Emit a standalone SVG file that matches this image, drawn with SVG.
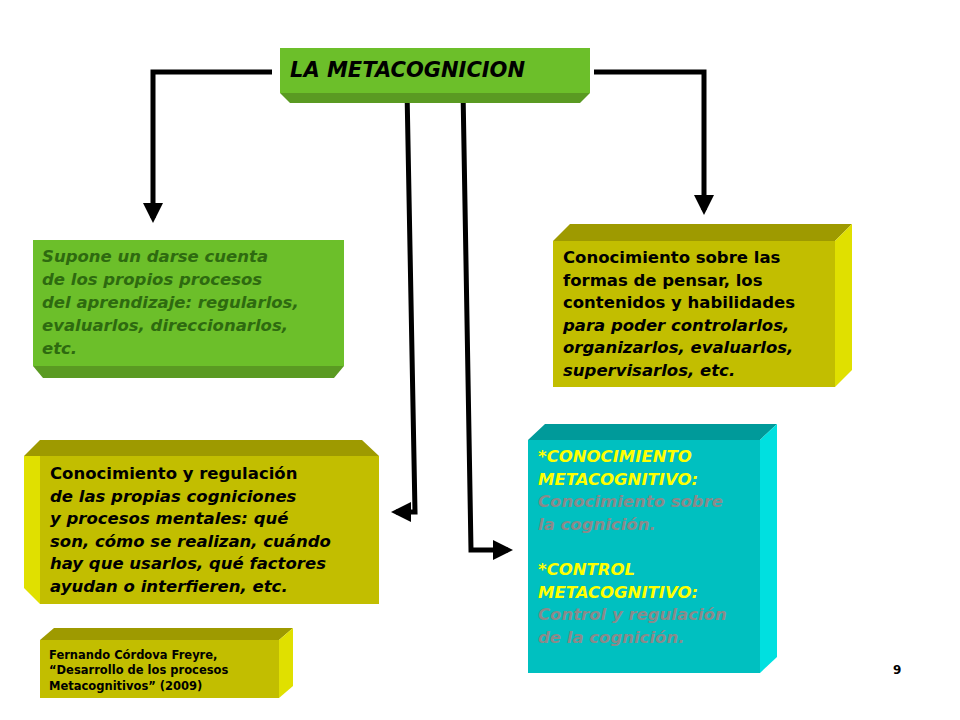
<svg xmlns="http://www.w3.org/2000/svg" width="960" height="720" viewBox="0 0 960 720">
<style>
text{font-family:"DejaVu Sans",Verdana,sans-serif;font-weight:bold;font-style:italic}
.t{font-size:16.5px}
.ln{stroke:#000;stroke-width:5;fill:none}
</style>
<defs><marker id="a" markerWidth="4" markerHeight="4" refX="3" refY="2" orient="auto"><path d="M0,0L4,2L0,4z" fill="#000"/></marker></defs>
<rect width="960" height="720" fill="#fff"/>
<g id="connectors">
<polyline class="ln" points="272,72 153,72 153,218" marker-end="url(#a)"/>
<polyline class="ln" points="594,72 704,72 704,210" marker-end="url(#a)"/>
<polyline class="ln" points="407,90 415,512 396,512" marker-end="url(#a)"/>
<polyline class="ln" points="463,90 471,550 508,550" marker-end="url(#a)"/>
</g>
<g id="title">
<polygon points="280,93 590,93 580,103 290,103" fill="#5A9A22"/>
<rect x="280" y="48" width="310" height="45" fill="#6CBF2A"/>
<text x="290" y="77" font-size="21" fill="#000">LA  METACOGNICION</text>
</g>
<g id="box1">
<polygon points="33,366 344,366 334,378 43,378" fill="#5A9A22"/>
<rect x="33" y="240" width="311" height="126" fill="#6CBF2A"/>
<g class="t" fill="#2E6A10">
<text x="42" y="262" class="t">Supone un darse cuenta</text>
<text x="42" y="285" class="t">de los propios procesos</text>
<text x="42" y="308" class="t">del aprendizaje: regularlos,</text>
<text x="42" y="331" class="t">evaluarlos, direccionarlos,</text>
<text x="42" y="354" class="t">etc.</text>
</g>
</g>
<g id="box2">
<polygon points="553,241 570,224 852,224 835,241" fill="#9E9A00"/>
<polygon points="835,241 852,224 852,370 835,387" fill="#E0E000"/>
<rect x="553" y="241" width="282" height="146" fill="#C2BE00"/>
<g fill="#000" font-style="normal">
<text x="563" y="263" class="t" style="font-style:normal">Conocimiento sobre las</text>
<text x="563" y="286" class="t" style="font-style:normal">formas de pensar, los</text>
<text x="563" y="308" class="t" style="font-style:normal">contenidos y habilidades</text>
<text x="563" y="331" class="t">para poder  controlarlos,</text>
<text x="563" y="353" class="t">organizarlos, evaluarlos,</text>
<text x="563" y="376" class="t">supervisarlos, etc.</text>
</g>
</g>
<g id="box3">
<polygon points="24,456 40,440 362,440 379,456" fill="#9E9A00"/>
<polygon points="24,456 40,456 40,604 24,588" fill="#E0E000"/>
<rect x="40" y="456" width="339" height="148" fill="#C2BE00"/>
<g fill="#000">
<text x="50" y="479" class="t" style="font-style:normal">Conocimiento y regulación</text>
<text x="50" y="502" class="t">de las propias cogniciones</text>
<text x="50" y="524" class="t">y procesos mentales: qué</text>
<text x="50" y="547" class="t">son, cómo se realizan, cuándo</text>
<text x="50" y="569" class="t">hay que usarlos, qué factores</text>
<text x="50" y="592" class="t">ayudan o interfieren, etc.</text>
</g>
</g>
<g id="box4">
<polygon points="528,440 545,424 777,424 760,440" fill="#009A9A"/>
<polygon points="760,440 777,424 777,657 760,673" fill="#00E0E0"/>
<rect x="528" y="440" width="232" height="233" fill="#00C0C0"/>
<text x="538" y="462" class="t" fill="#FFFF00">*CONOCIMIENTO</text>
<text x="538" y="485" class="t" fill="#FFFF00">METACOGNITIVO:</text>
<text x="538" y="507" class="t" fill="#8A8A8A">Conocimiento sobre</text>
<text x="538" y="530" class="t" fill="#8A8A8A">la cognición.</text>
<text x="538" y="575" class="t" fill="#FFFF00">*CONTROL</text>
<text x="538" y="598" class="t" fill="#FFFF00">METACOGNITIVO:</text>
<text x="538" y="620" class="t" fill="#8A8A8A">Control y regulación</text>
<text x="538" y="643" class="t" fill="#8A8A8A">de la cognición.</text>
</g>
<g id="citation">
<polygon points="40,640 54,628 293,628 279,640" fill="#9E9A00"/>
<polygon points="279,640 293,628 293,686 279,698" fill="#E0E000"/>
<rect x="40" y="640" width="239" height="58" fill="#C2BE00"/>
<g font-size="11.5" fill="#000" style="font-style:normal">
<text x="49" y="659" style="font-style:normal">Fernando Córdova Freyre,</text>
<text x="49" y="674" style="font-style:normal">“Desarrollo de los procesos</text>
<text x="49" y="690" style="font-style:normal">Metacognitivos”  (2009)</text>
</g>
</g>
<text x="893" y="674" font-size="12" style="font-style:normal" fill="#000">9</text>
</svg>
